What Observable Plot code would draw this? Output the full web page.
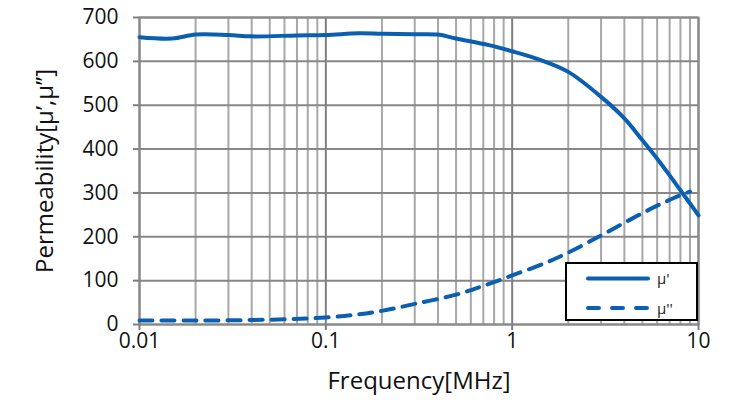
<!DOCTYPE html>
<html><head><meta charset="utf-8">
<script src="https://cdn.jsdelivr.net/npm/d3@7"></script>
<script src="https://cdn.jsdelivr.net/npm/@observablehq/plot@0.6"></script>
<style>
body{margin:0;background:#fff;font-family:"Open Sans",sans-serif}
#wrap{position:relative;width:750px;height:400px}
#legend{position:absolute;left:565px;top:262px;width:129px;height:55px;border:2px solid #000;background:#fff}
#legend svg{display:block}
</style>
</head><body><div id="wrap"></div>
<script>
// μ' (real part)
const freqReal = [0.01, 0.015, 0.02, 0.03, 0.04, 0.07, 0.1, 0.15, 0.2, 0.3, 0.4, 0.5, 0.75, 1, 1.4, 2, 3, 4, 5, 6, 7, 8, 9, 10];
const muReal   = [655, 652, 661, 660, 657, 659, 660, 664, 663, 662, 661, 652, 637, 623, 604, 576, 519, 470, 420, 378, 340, 306, 276, 249];
// μ'' (imaginary part)
const freqImag = [0.01, 0.02, 0.05, 0.1, 0.15, 0.2, 0.3, 0.5, 0.7, 1, 1.5, 2, 3, 4, 5, 6, 7, 8, 9];
const muImag   = [9, 9, 11, 16, 23, 31, 47, 68, 88, 112, 140, 164, 203, 232, 254, 271, 284, 295, 303];
// axis ticks
const xTickValues = [0.01, 0.1, 1, 10];
const xTickLabels = ["0.01", "0.1", "1", "10"];
const yTickValues = [0, 100, 200, 300, 400, 500, 600, 700];
const decades = [0.01, 0.1, 1];
const minorSteps = [2, 3, 4, 5, 6, 7, 8, 9];
const seriesNames = ["μ'", "μ''"];

const realData = freqReal.map((f, i) => ({f, v: muReal[i]}));
const imagData = freqImag.map((f, i) => ({f, v: muImag[i]}));
const minorX = decades.flatMap(d => minorSteps.map(s => d * s));
const blue = "#0a5fb0";
const labelFor = d => xTickLabels[xTickValues.findIndex(t => Math.abs(t - d) < 1e-9)];

const chart = Plot.plot({
  width: 750, height: 400,
  marginLeft: 139, marginRight: 52, marginTop: 17, marginBottom: 76,
  style: {fontFamily: "'Open Sans', sans-serif", fontSize: "21px", color: "#111", background: "#fff"},
  x: {type: "log", domain: [0.01, 10]},
  y: {domain: [0, 700]},
  marks: [
    Plot.ruleX(minorX, {stroke: "#a8a8a8", strokeWidth: 2}),
    Plot.ruleY(yTickValues, {stroke: "#878787", strokeWidth: 2}),
    Plot.ruleX(xTickValues, {stroke: "#7f7f7f", strokeWidth: 2}),
    Plot.frame({stroke: "#8a8a8a", strokeWidth: 2}),
    Plot.axisX({ticks: xTickValues, tickFormat: labelFor, tickSize: 6, tickPadding: 3, fontSize: 21,
      stroke: "#7f7f7f", strokeWidth: 2, label: null}),
    Plot.axisX({ticks: [], label: "Frequency[MHz]", labelAnchor: "center", labelArrow: "none", labelOffset: 64, fontSize: 24}),
    Plot.axisY({ticks: yTickValues, tickSize: 6, tickPadding: 15, fontSize: 21, stroke: "#7f7f7f", strokeWidth: 2, label: null}),
    Plot.axisY({ticks: [], label: "Permeability[μ’,μ’’]", labelAnchor: "center", labelArrow: "none", labelOffset: 104, fontSize: 24}),
    Plot.line(imagData, {x: "f", y: "v", stroke: blue, strokeWidth: 4, strokeDasharray: "13,9", curve: "catmull-rom"}),
    Plot.line(realData, {x: "f", y: "v", stroke: blue, strokeWidth: 4, curve: "catmull-rom"})
  ]
});
const wrap = document.getElementById("wrap");
wrap.appendChild(chart);

const leg = document.createElement("div");
leg.id = "legend";
leg.innerHTML = `<svg width="129" height="55" font-family="'Open Sans', sans-serif" font-size="15">
  <line x1="21" y1="14.5" x2="81" y2="14.5" stroke="${blue}" stroke-width="4" stroke-linecap="round"/>
  <text x="90" y="20" fill="#222">${seriesNames[0]}</text>
  <line x1="21" y1="44" x2="89" y2="44" stroke="${blue}" stroke-width="4" stroke-linecap="round" stroke-dasharray="11,13"/>
  <text x="90" y="50" fill="#222">${seriesNames[1]}</text>
</svg>`;
wrap.appendChild(leg);
</script>
</body></html>
